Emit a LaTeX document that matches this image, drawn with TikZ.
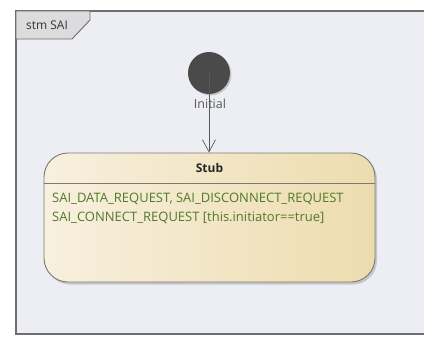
\documentclass[tikz,border=0pt]{standalone}
\usepackage{fontspec}
\setmainfont{Open Sans}
\usepackage{tikz}
\usepackage{xcolor}
\usetikzlibrary{calc}
\usetikzlibrary{positioning}
\usetikzlibrary{shadows}
\usetikzlibrary{arrows.meta}

\definecolor{framebg}{HTML}{EDEEF4}
\definecolor{frameline}{HTML}{6E6E6E}
\definecolor{tabfill}{HTML}{DCDCDE}
\definecolor{stateleft}{HTML}{F8F0DF}
\definecolor{stateright}{HTML}{EDDCAE}
\definecolor{stateline}{HTML}{7A7A72}
\definecolor{guardgreen}{HTML}{4F7A2B}
\definecolor{initfill}{HTML}{4A4A4A}

\tikzset{
  initstate/.style={circle,fill=initfill,minimum size=42pt,inner sep=0pt,
    drop shadow={shadow xshift=1.5pt,shadow yshift=-1.5pt,opacity=0.35}},
  statebox/.style={draw=stateline,line width=0.9pt,rounded corners=24pt,
    left color=stateleft,right color=stateright,minimum width=331pt,
    minimum height=129pt,inner sep=0pt,
    drop shadow={shadow xshift=2pt,shadow yshift=-2.5pt,opacity=0.35}},
  guardtext/.style={text=guardgreen,font=\fontsize{13}{19}\selectfont,
    align=left,inner sep=0pt},
  transition/.style={draw=black!65,line width=0.7pt,
    -{Straight Barb[length=12pt,width=13pt,line width=0.7pt]}},
}

\begin{document}
\begin{tikzpicture}[x=1pt,y=-1pt]
\useasboundingbox (0,0) rectangle (424,338);
\fill[white] (0,0) rectangle (424,338);

% frame
\fill[framebg] (16,11) rectangle (424,334);
\draw[frameline,line width=1.4pt] (424,11) -- (16,11) -- (16,334) -- (424,334);
\draw[frameline,fill=tabfill,line width=0.9pt] (16,11) -- (90,11) -- (90,20) -- (72,39) -- (16,39) -- cycle;
\node[text=black!80,font=\fontsize{12}{14}\selectfont] (tab) at (47,25) {stm SAI};

% states
\node[initstate] (init) at (209,73) {};
\node[text=black!65,font=\fontsize{12.5}{14}\selectfont] (initlabel) at (210,104) {Initial};
\node[statebox] (stub) at (209.5,217.5) {};
\draw[stateline,line width=0.8pt] (stub.west |- 0,183) -- (stub.east |- 0,183);
\node[font=\bfseries\fontsize{12}{14}\selectfont,text=black!85] (stubname) at (209.5,168) {Stub};
\node[guardtext,anchor=west] (stubbody) at (52,208.5)
  {SAI\_DATA\_REQUEST, SAI\_DISCONNECT\_REQUEST\\SAI\_CONNECT\_REQUEST [this.initiator==true]};

\draw[transition] (init.center) -- (init.center |- stub.north);
\end{tikzpicture}
\end{document}
